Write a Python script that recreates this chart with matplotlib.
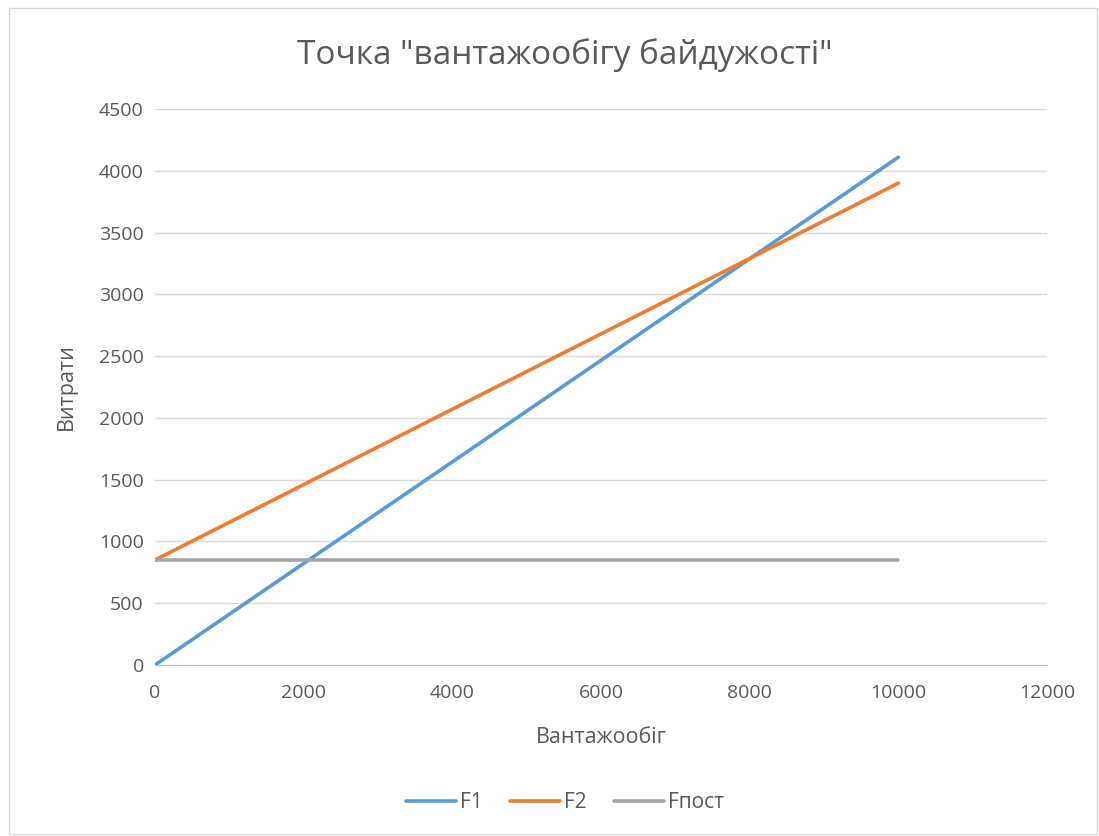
import matplotlib
matplotlib.use("Agg")
import matplotlib.pyplot as plt
from matplotlib.patches import Rectangle

plt.rcParams['font.family'] = ['Open Sans', 'DejaVu Sans']

# Дані графіка
x_vals = [0, 10000]
f1 = [0, 4110]
f2 = [850, 3900]
f_post = [850, 850]

series_names = ['F1', 'F2', 'Fпост']
colors = ['#5B9BD5', '#ED7D31', '#A5A5A5']

fig = plt.figure(figsize=(10.99, 8.36), dpi=100)
ax = fig.add_axes([0.141, 0.2045, 0.8117, 0.6651])

for y, name, c in zip([f1, f2, f_post], series_names, colors):
    ax.plot(x_vals, y, color=c, linewidth=2.6, label=name, solid_capstyle='round')

ax.set_xlim(0, 12000)
ax.set_ylim(0, 4500)
ax.set_xticks(range(0, 12001, 2000))
ax.set_yticks(range(0, 4501, 500))
ax.grid(axis='y', color='#D9D9D9', linewidth=1)
ax.set_axisbelow(True)
for s in ['top', 'right', 'left']:
    ax.spines[s].set_visible(False)
ax.spines['bottom'].set_color('#BFBFBF')
ax.tick_params(length=0, labelsize=14, colors='#595959')
ax.tick_params(axis='x', pad=14)
ax.tick_params(axis='y', pad=8)

ax.set_xlabel('Вантажообіг', fontsize=15.5, color='#595959', labelpad=18)
ax.set_ylabel('Витрати', fontsize=15.5, color='#595959', labelpad=16)
fig.text(0.514, 0.934, 'Точка "вантажообігу байдужості"', ha='center', va='center',
         fontsize=24, color='#595959')

fig.legend(loc='center', bbox_to_anchor=(0.514, 0.04), ncol=3, frameon=False,
           fontsize=15, labelcolor='#595959', handlelength=2.4, columnspacing=1.3,
           handletextpad=0.2)

# рамка області діаграми
fig.patches.append(Rectangle((0.008, 0.002), 0.99, 0.988, transform=fig.transFigure,
                             fill=False, edgecolor='#D9D9D9', linewidth=1))

fig.savefig('out.png', dpi=100)
